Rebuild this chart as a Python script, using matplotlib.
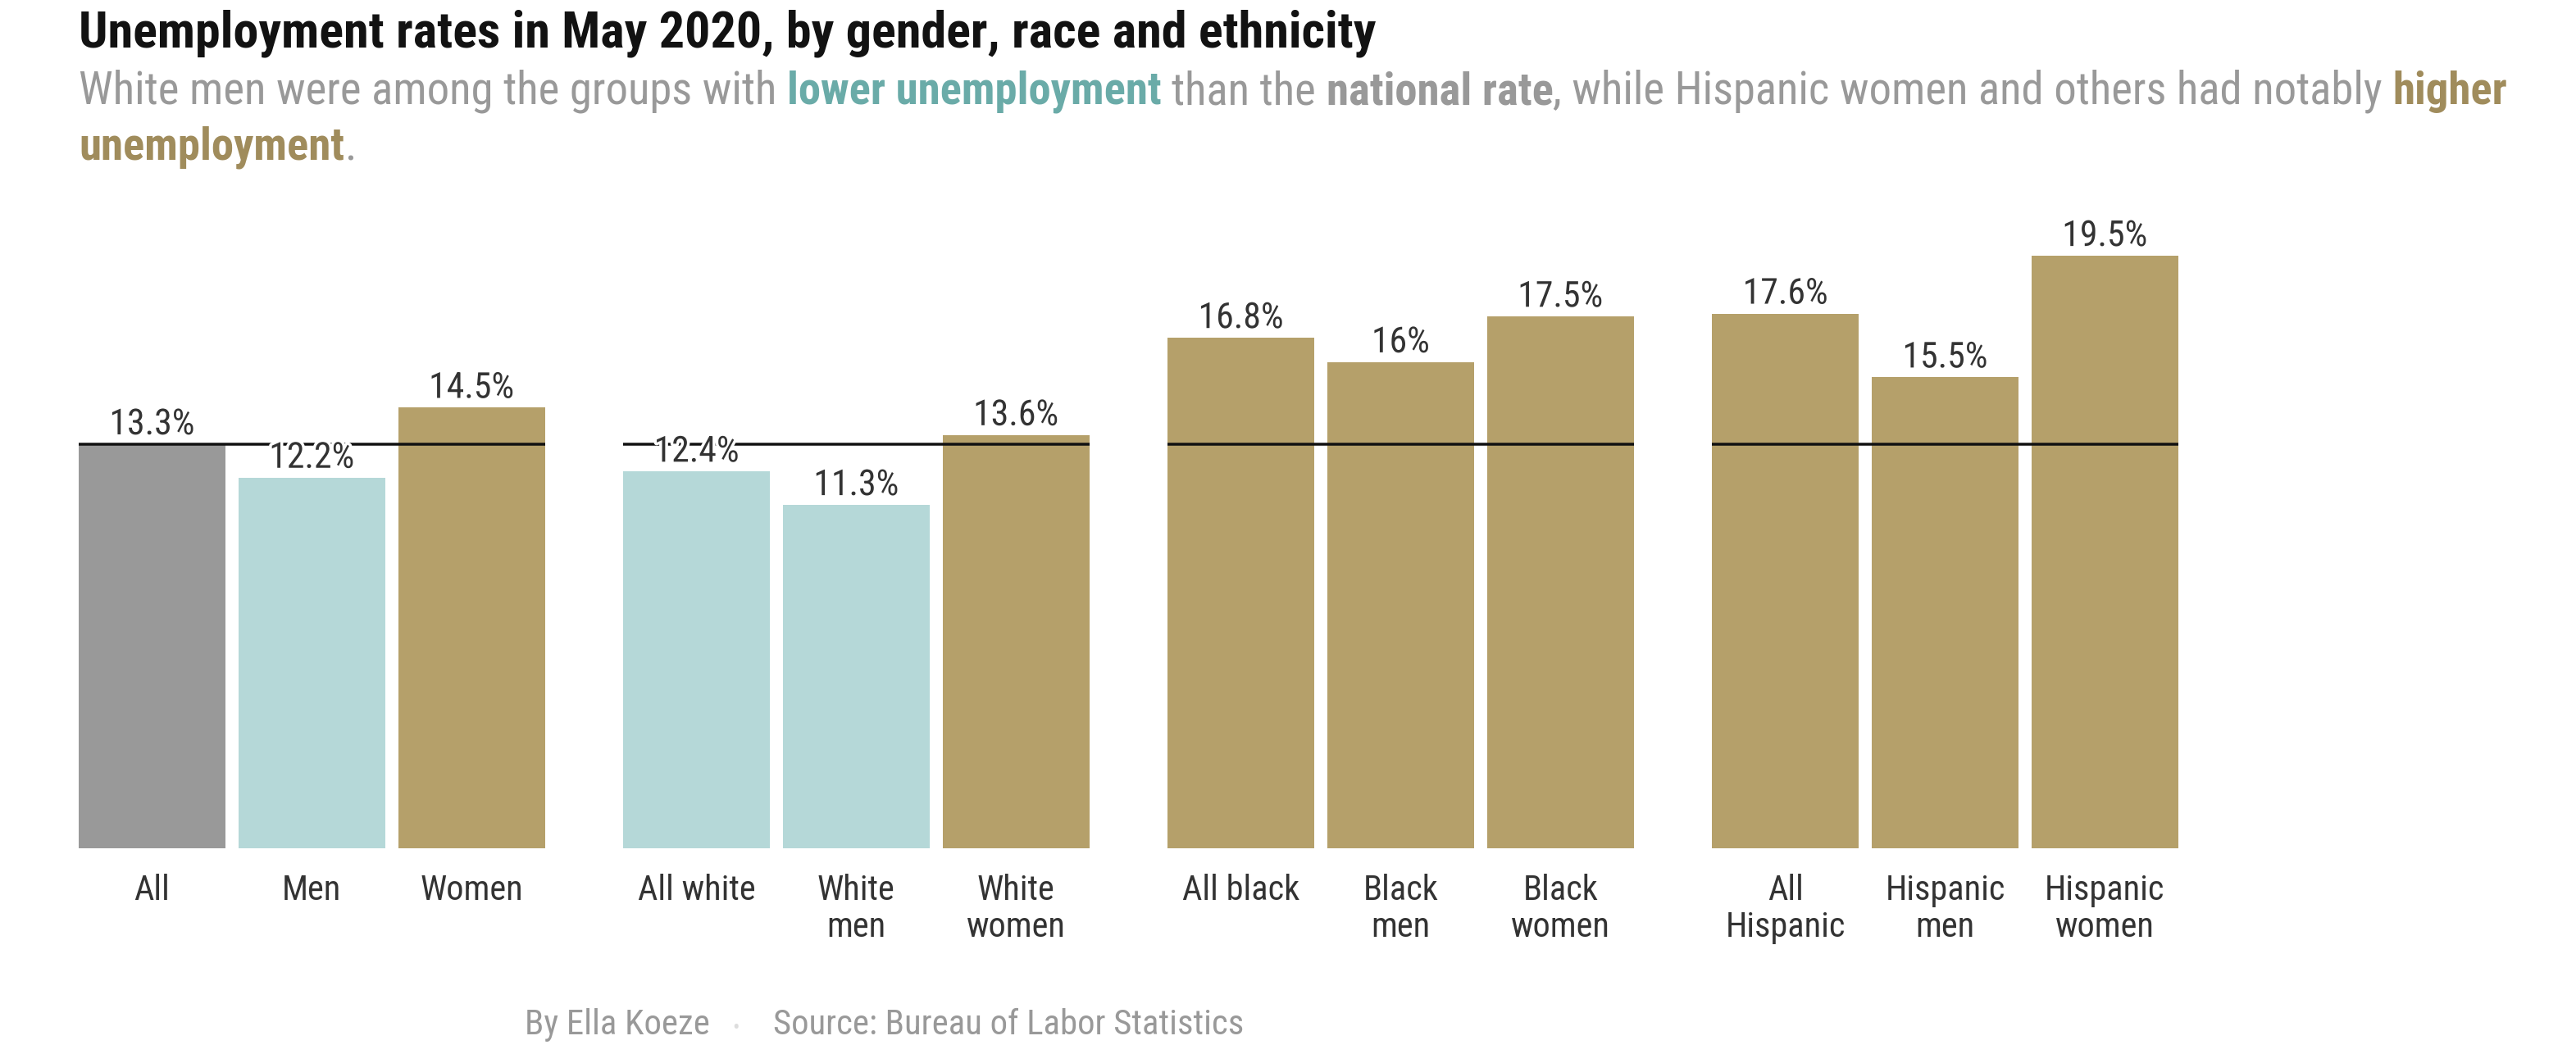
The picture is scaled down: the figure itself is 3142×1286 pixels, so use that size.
import matplotlib
matplotlib.use("Agg")
import matplotlib.pyplot as plt
from matplotlib import font_manager
import matplotlib.patheffects as pe

# ---------------- data ----------------
groups = ["overall", "white", "black", "hispanic"]
categories = [
    ["All", "Men", "Women"],
    ["All white", "White\nmen", "White\nwomen"],
    ["All black", "Black\nmen", "Black\nwomen"],
    ["All\nHispanic", "Hispanic\nmen", "Hispanic\nwomen"],
]
values = [
    [13.3, 12.2, 14.5],
    [12.4, 11.3, 13.6],
    [16.8, 16.0, 17.5],
    [17.6, 15.5, 19.5],
]
value_labels = [
    ["13.3%", "12.2%", "14.5%"],
    ["12.4%", "11.3%", "13.6%"],
    ["16.8%", "16%", "17.5%"],
    ["17.6%", "15.5%", "19.5%"],
]
national_rate = 13.3

title = "Unemployment rates in May 2020, by gender, race and ethnicity"
source_by = "By Ella Koeze"
source_txt = "Source: Bureau of Labor Statistics"

# ---------------- style ----------------
GREY = "#999999"
TEAL = "#b5d8d8"
GOLD = "#b5a06a"
TEAL_TXT = "#6aaba8"
GOLD_TXT = "#a08c5c"
TXT = "#333333"

available = {f.name for f in font_manager.fontManager.ttflist}
FONT = "DejaVu Sans"
for cand in ["Liberation Sans Narrow", "Roboto Condensed", "Liberation Sans", "Roboto"]:
    if cand in available:
        FONT = cand
        break
plt.rcParams["font.family"] = [FONT, "DejaVu Sans"]

W, H = 3142, 1286
fig = plt.figure(figsize=(W / 100, H / 100), dpi=100)
fig.patch.set_facecolor("white")

GROUP_STEP = 3.409
BAR_W = 0.919
PX_PER_UNIT = 194.8
left_px, bottom_px = 96, 1035
xmin = -BAR_W / 2
xmax = 3 * GROUP_STEP + 2 + BAR_W / 2
ymax = 21.0
px_per_pct = 37.07
ax = fig.add_axes([left_px / W, (H - bottom_px) / H,
                   (xmax - xmin) * PX_PER_UNIT / W, ymax * px_per_pct / H])
ax.set_xlim(xmin, xmax)
ax.set_ylim(0, ymax)
ax.axis("off")

def bar_color(g, v):
    if g == 0 and v == national_rate:
        return GREY
    return TEAL if v < national_rate else GOLD

VAL_SIZE = 31.5
CAT_SIZE = 30.5
stroke = [pe.withStroke(linewidth=5, foreground="white")]
px2pt = 72 / 100
for g in range(len(groups)):
    xs = [g * GROUP_STEP + i for i in range(3)]
    cols = [bar_color(g, v) for v in values[g]]
    ax.bar(xs, values[g], width=BAR_W, color=cols, zorder=2)
    ax.hlines(national_rate, xs[0] - BAR_W / 2, xs[-1] + BAR_W / 2,
              color="#111111", lw=3.5 * px2pt, zorder=3)
    for x, v, lab, cat in zip(xs, values[g], value_labels[g], categories[g]):
        ax.annotate(lab, (x, v), xytext=(0, 12 * px2pt), textcoords="offset points",
                    ha="center", va="baseline", fontsize=VAL_SIZE, color=TXT,
                    path_effects=stroke, zorder=4)
        for k, line in enumerate(cat.split("\n")):
            ax.annotate(line, (x, 0), xytext=(0, -(63 + 45 * k) * px2pt),
                        textcoords="offset points", ha="center", va="baseline",
                        fontsize=CAT_SIZE, color=TXT, annotation_clip=False)

# ---------------- title & subtitle ----------------
fig.text(96 / W, 1 - 58 / H, title, fontsize=44.7, fontweight="bold",
         color="#121212", ha="left", va="baseline")

renderer = fig.canvas.get_renderer()

def text_width(s, size, weight):
    t = fig.text(0, 0, s, fontsize=size, fontweight=weight)
    w = t.get_window_extent(renderer).width
    t.remove()
    return w

def draw_runs(runs, x, y, size):
    sp = {}
    for text, color, weight in runs:
        if weight not in sp:
            sp[weight] = text_width("a a", size, weight) - text_width("aa", size, weight)
        lead = len(text) - len(text.lstrip(" "))
        trail = len(text) - len(text.rstrip(" "))
        x += lead * sp[weight]
        core = text.strip(" ")
        if core:
            t = fig.text(x / W, 1 - y / H, core, fontsize=size, fontweight=weight,
                         color=color, ha="left", va="baseline")
            x = t.get_window_extent(renderer).x1
        x += trail * sp[weight]
    return x

SUB = 39.4
draw_runs([
    ("White men were among the groups with ", GREY, "normal"),
    ("lower unemployment", TEAL_TXT, "bold"),
    (" than the ", GREY, "normal"),
    ("national rate", GREY, "bold"),
    (", while Hispanic women and others had notably ", GREY, "normal"),
    ("higher", GOLD_TXT, "bold"),
], 96, 127, SUB)
draw_runs([
    ("unemployment", GOLD_TXT, "bold"),
    (".", GREY, "normal"),
], 96, 195, SUB)

# ---------------- footer ----------------
FOOT = 30.8
draw_runs([(source_by, GREY, "normal")], 640, 1262, FOOT)
draw_runs([("\u2022", "#dddddd", "normal")], 893, 1262, 18)
draw_runs([(source_txt, GREY, "normal")], 943, 1262, FOOT)

fig.savefig("out.png", dpi=100, facecolor="white")
